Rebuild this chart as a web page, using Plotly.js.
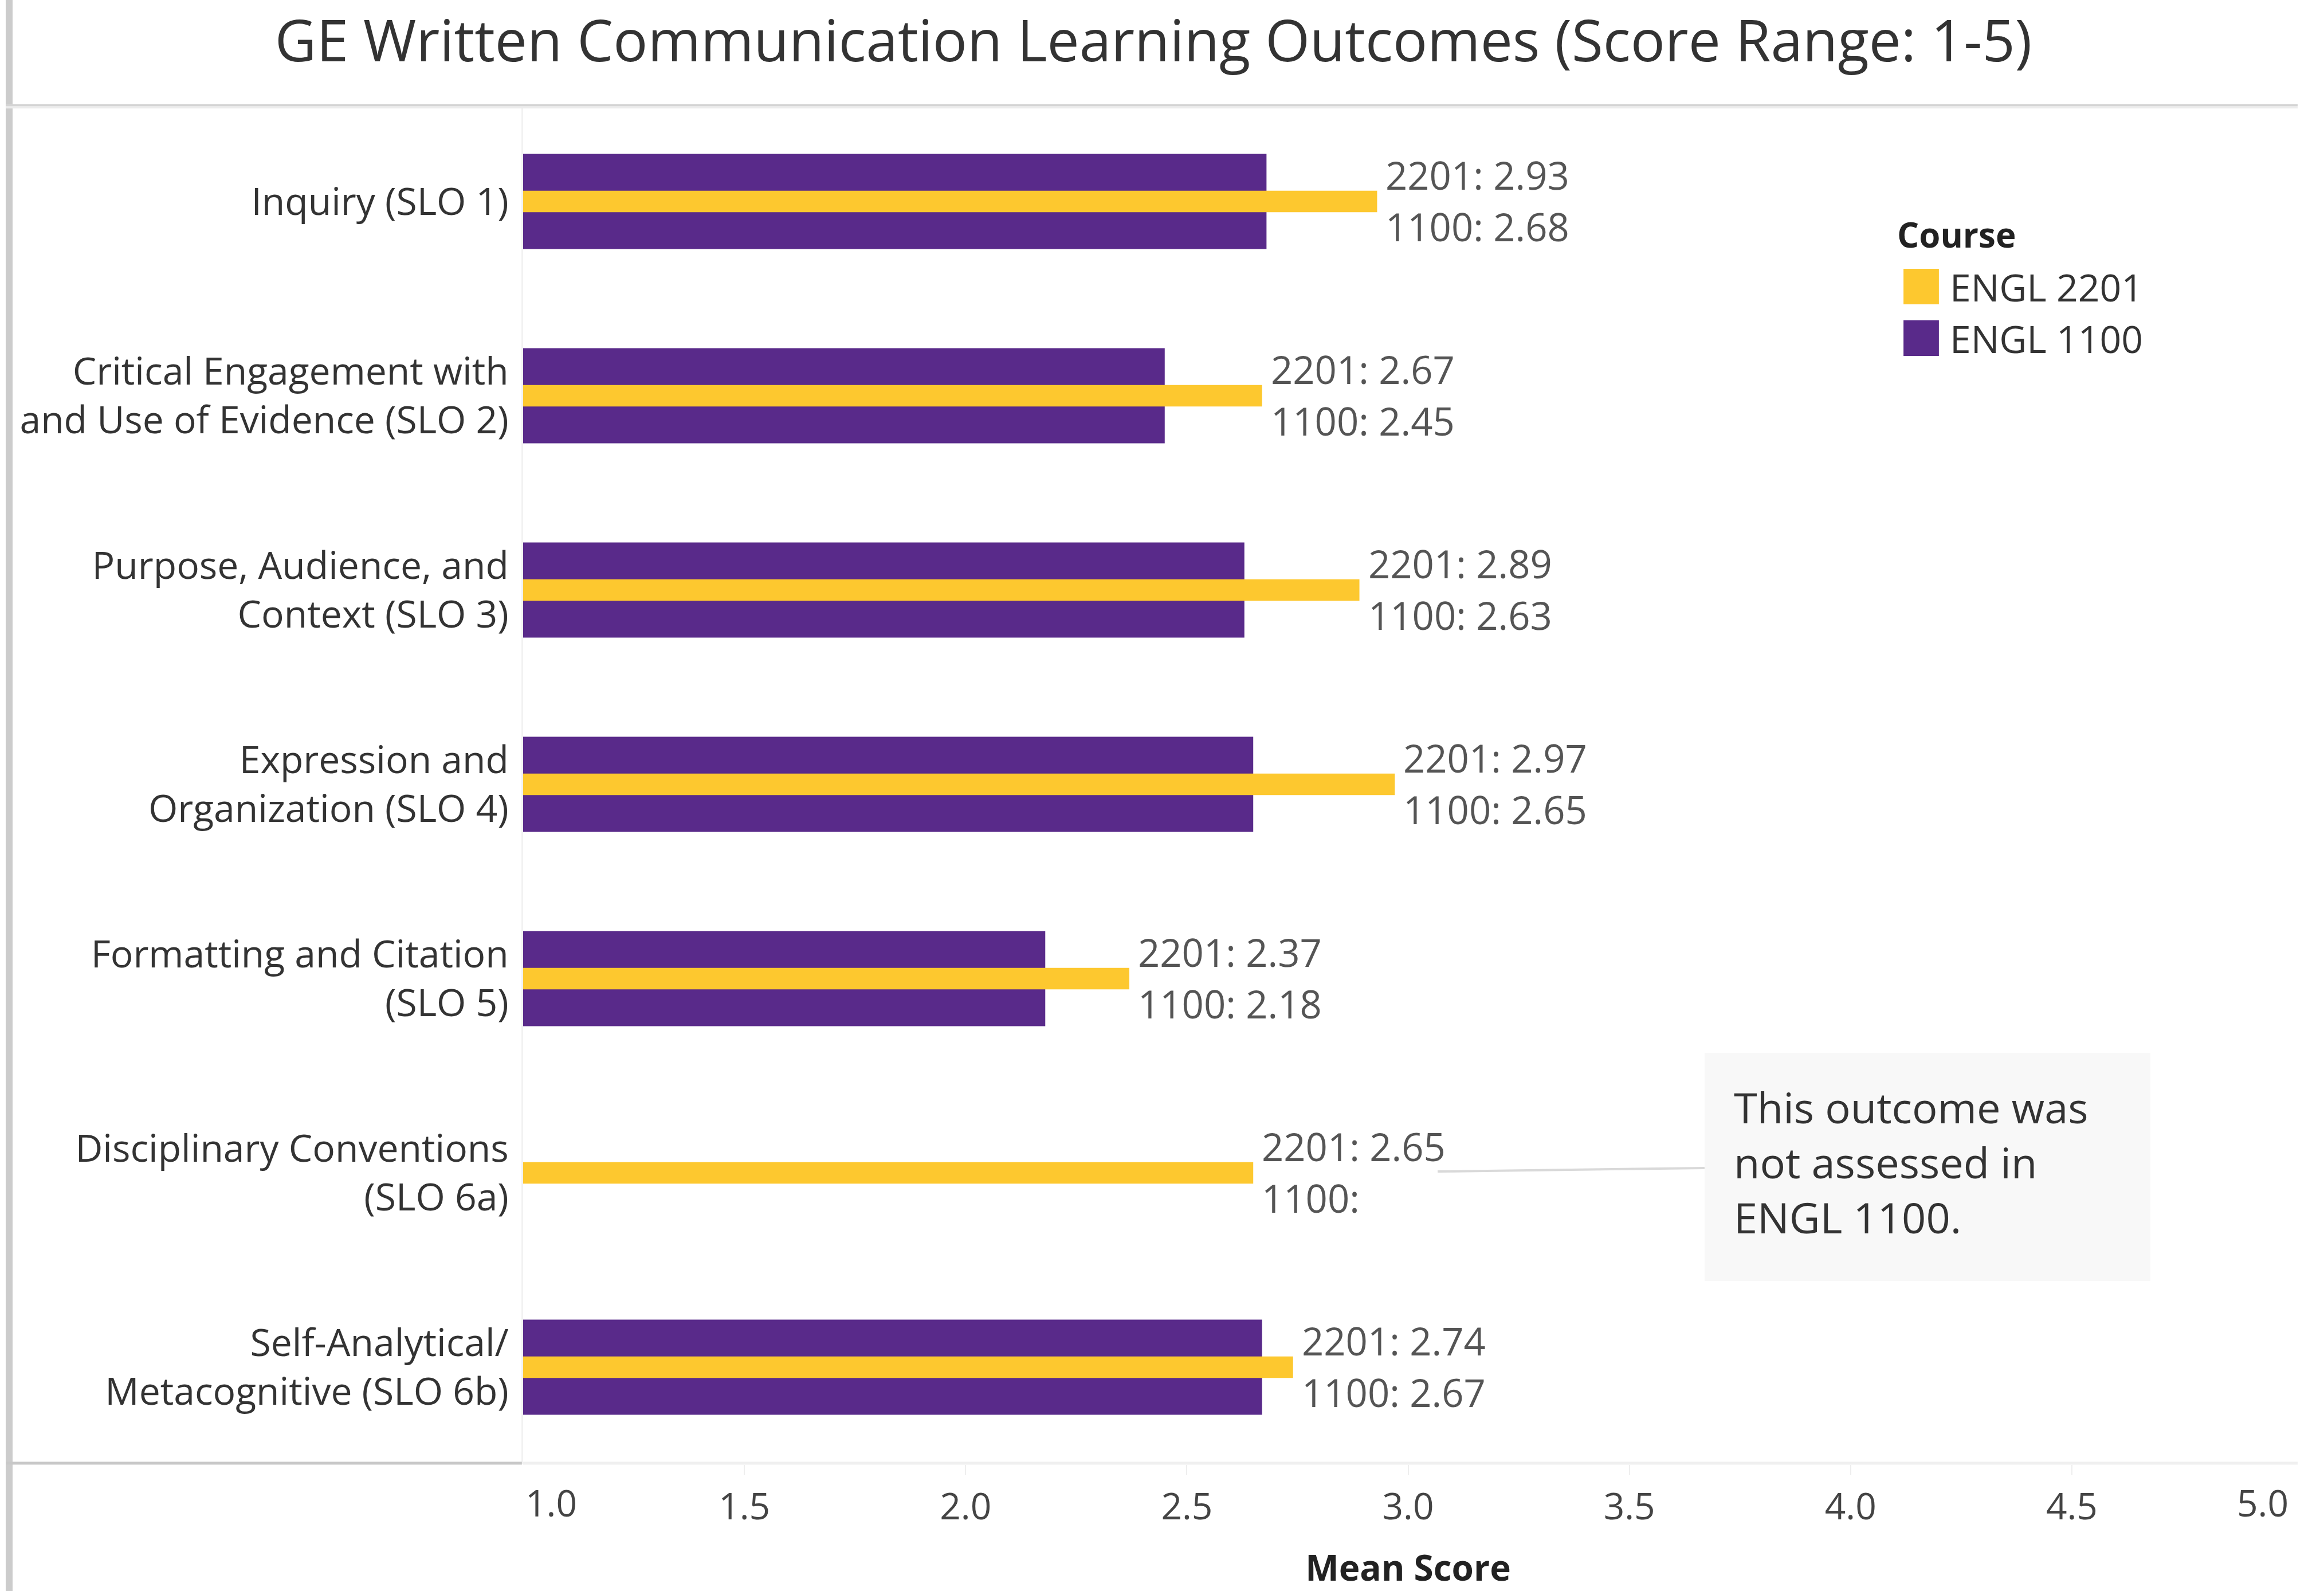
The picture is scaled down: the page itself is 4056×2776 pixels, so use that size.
<!DOCTYPE html>
<html><head><meta charset="utf-8">
<script src="https://cdn.plot.ly/plotly-3.0.1.min.js"></script>
<style>html,body{margin:0;padding:0;background:#fff}#chart{width:4056px;height:2776px}</style>
</head><body><div id="chart"></div>
<script>
// ---- data ----
const categories = [
  "Inquiry (SLO 1)",
  "Critical Engagement with<br>and Use of Evidence (SLO 2)",
  "Purpose, Audience, and<br>Context (SLO 3)",
  "Expression and<br>Organization (SLO 4)",
  "Formatting and Citation<br>(SLO 5)",
  "Disciplinary Conventions<br>(SLO 6a)",
  "Self-Analytical/<br>Metacognitive (SLO 6b)"
];
const engl2201 = [2.93, 2.67, 2.89, 2.97, 2.37, 2.65, 2.74];
const engl1100 = [2.68, 2.45, 2.63, 2.65, 2.18, null, 2.67];
const seriesNames = ["ENGL 2201", "ENGL 1100"];
const seriesShort = ["2201", "1100"];
const seriesColors = ["#FDC82F", "#592A8A"];
const xTickVals = [1.0, 1.5, 2.0, 2.5, 3.0, 3.5, 4.0, 4.5, 5.0];
const xTickText = ["1.0", "1.5", "2.0", "2.5", "3.0", "3.5", "4.0", "4.5", "5.0"];
const chartTitle = "GE Written Communication Learning Outcomes (Score Range: 1-5)";
const xTitle = "Mean Score";
const legendTitle = "Course";
const noteText = "This outcome was<br>not assessed in<br>ENGL 1100.";

// ---- traces ----
const FONT = "Open Sans, Noto Sans, sans-serif";
const traces = [
  {type: 'bar', orientation: 'h', name: seriesNames[1], y: categories, x: engl1100,
   width: 0.49, marker: {color: seriesColors[1], line: {width: 0}}, hoverinfo: 'x+name'},
  {type: 'bar', orientation: 'h', name: seriesNames[0], y: categories, x: engl2201,
   width: 0.11, marker: {color: seriesColors[0], line: {width: 0}}, hoverinfo: 'x+name'}
];

// ---- annotations ----
const annotations = [];
const labelFont = {family: FONT, size: 67, color: '#555555'};
categories.forEach((c, i) => {
  const a = engl2201[i], b = engl1100[i];
  const xm = b == null ? a : Math.max(a, b);
  annotations.push({x: xm, y: c, xref: 'x', yref: 'y', xanchor: 'left', yanchor: 'middle',
    xshift: 13, yshift: 47, showarrow: false, align: 'left',
    text: seriesShort[0] + ': ' + a.toFixed(2), font: labelFont});
  annotations.push({x: xm, y: c, xref: 'x', yref: 'y', xanchor: 'left', yanchor: 'middle',
    xshift: 13, yshift: -43, showarrow: false, align: 'left',
    text: seriesShort[1] + ': ' + (b == null ? '' : b.toFixed(2)), font: labelFont});
});
// edge tick labels (Tableau style: inset at the ends)
const tickFont = {family: FONT, size: 64, color: '#444444'};
annotations.push({x: xTickVals[0], y: 0, xref: 'x', yref: 'paper', yanchor: 'middle', xanchor: 'left',
  yshift: -66, xshift: 2, showarrow: false, text: xTickText[0], font: tickFont});
annotations.push({x: xTickVals[xTickVals.length - 1], y: 0, xref: 'x', yref: 'paper', yanchor: 'middle', xanchor: 'right',
  yshift: -66, xshift: -6, showarrow: false, text: xTickText[xTickText.length - 1], font: tickFont});

// legend (manual, large swatches)
annotations.push({x: 0.7755, y: 0.9043, xref: 'paper', yref: 'paper', xanchor: 'left', yanchor: 'middle',
  showarrow: false, text: '<b>' + legendTitle + '</b>', font: {family: FONT, size: 60, color: '#222222'}});
const legY = [0.8660, 0.8281];
const shapes = [];
seriesNames.forEach((n, k) => {
  annotations.push({x: 0.8055, y: legY[k], xref: 'paper', yref: 'paper', xanchor: 'left', yanchor: 'middle',
    showarrow: false, text: n, font: {family: FONT, size: 66, color: '#333333'}});
  shapes.push({type: 'rect', xref: 'paper', yref: 'paper', x0: 0.7799, x1: 0.7999,
    y0: legY[k] - 0.0131, y1: legY[k] + 0.0131, fillcolor: seriesColors[k], line: {width: 0}});
});

// note box
shapes.push({type: 'rect', xref: 'paper', yref: 'paper', x0: 0.6675, x1: 0.9194, y0: 0.1349, y1: 0.3026,
  fillcolor: '#f8f8f8', line: {width: 0}, layer: 'below'});
shapes.push({type: 'line', xref: 'paper', yref: 'paper', x0: 0.5167, x1: 0.6675, y0: 0.2153, y1: 0.2179,
  line: {color: '#d9d9d9', width: 4}});
annotations.push({x: 0.6834, y: 0.2221, xref: 'paper', yref: 'paper', xanchor: 'left', yanchor: 'middle',
  showarrow: false, align: 'left', text: noteText, font: {family: FONT, size: 74, color: '#333333'}});

// frame lines
shapes.push({type: 'line', xref: 'paper', yref: 'paper', x0: -0.2904, x1: -0.2904, y0: -0.1, y1: 1.08,
  line: {color: '#cccccc', width: 12}});
shapes.push({type: 'line', xref: 'paper', yref: 'paper', x0: -0.2923, x1: 1.0026, y0: 0.9993, y1: 0.9993,
  line: {color: '#d4d4d4', width: 4}});
shapes.push({type: 'line', xref: 'paper', yref: 'paper', x0: -0.2923, x1: 1.0026, y0: 0.9978, y1: 0.9978,
  line: {color: '#ececec', width: 4}});
shapes.push({type: 'line', xref: 'paper', yref: 'paper', x0: -0.2923, x1: -0.0007, y0: 0.0008, y1: 0.0008,
  line: {color: '#c8c8c8', width: 5}});
shapes.push({type: 'line', xref: 'paper', yref: 'paper', x0: 0, x1: 1.0026, y0: 0.0008, y1: 0.0008,
  line: {color: '#f0f0f0', width: 5}});

const layout = {
  width: 4056, height: 2776,
  margin: {l: 913, r: 54, t: 182, b: 221, pad: 0},
  paper_bgcolor: '#ffffff', plot_bgcolor: '#ffffff',
  font: {family: FONT, color: '#333333'},
  title: {text: chartTitle, x: 0.4963, xanchor: 'center', y: 0.974, yanchor: 'middle', yref: 'container',
    font: {family: FONT, size: 100, color: '#333333'}},
  barmode: 'overlay',
  showlegend: false,
  xaxis: {range: [1, 5], tickvals: xTickVals.slice(1, -1), ticktext: xTickText.slice(1, -1),
    showgrid: false, zeroline: false, showline: false,
    ticks: 'outside', ticklen: 18, tickwidth: 2, tickcolor: '#eeeeee',
    tickfont: tickFont, ticklabelstandoff: 0,
    title: {text: '<b>' + xTitle + '</b>', standoff: 88, font: {family: FONT, size: 62, color: '#222222'}}},
  yaxis: {type: 'category', categoryorder: 'array', categoryarray: categories, autorange: 'reversed',
    showgrid: false, zeroline: false, showline: true, linecolor: '#f2f2f2', linewidth: 3,
    ticks: '', ticklabelstandoff: 9,
    tickfont: {family: FONT, size: 66, color: '#333333'}},
  shapes: shapes,
  annotations: annotations
};

Plotly.newPlot('chart', traces, layout, {displayModeBar: false, staticPlot: true});
</script>
</body></html>
